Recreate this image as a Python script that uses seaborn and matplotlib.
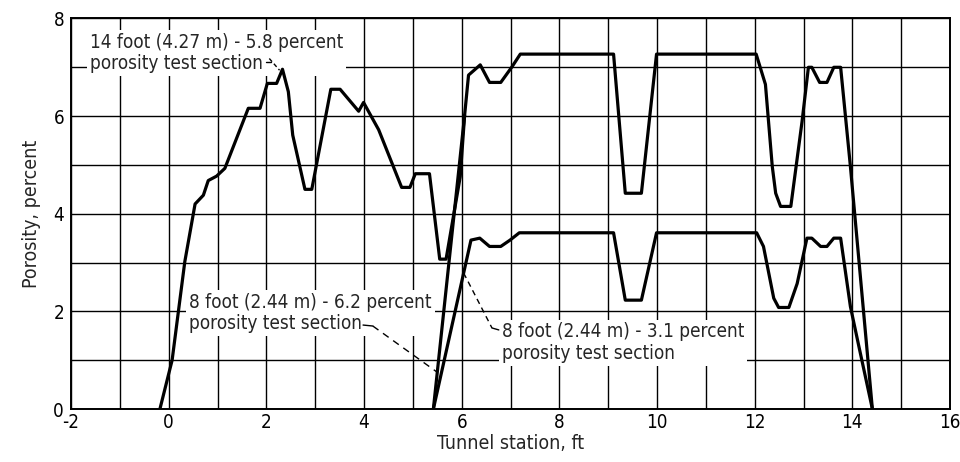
import numpy as np
import pandas as pd
import matplotlib
matplotlib.use("Agg")
import matplotlib.pyplot as plt
from matplotlib.ticker import MultipleLocator
import seaborn as sns

# Porosity distributions along the tunnel (station in ft, porosity in percent)
station_14ft = [-0.18, 0.07, 0.33, 0.54, 0.71, 0.81, 0.98, 1.15, 1.63, 1.87, 2.02, 2.21,
                2.33, 2.45, 2.54, 2.79, 2.93, 3.32, 3.51, 3.89, 3.99, 4.30, 4.77, 4.94,
                5.05, 5.34, 5.55, 5.68, 5.97, 6.06]
porosity_14ft = [0.0, 1.0, 3.02, 4.2, 4.38, 4.68, 4.77, 4.93, 6.16, 6.16, 6.67, 6.67,
                 6.96, 6.5, 5.61, 4.5, 4.5, 6.55, 6.55, 6.1, 6.28, 5.72, 4.54, 4.54,
                 4.82, 4.82, 3.07, 3.07, 4.76, 6.02]

station_8ft_62 = [5.42, 6.06, 6.14, 6.38, 6.57, 6.80, 7.03, 7.20, 9.11, 9.35, 9.68, 9.99,
                  12.03, 12.22, 12.36, 12.43, 12.53, 12.74, 12.97, 13.10, 13.17, 13.33,
                  13.48, 13.62, 13.76, 13.96, 14.41]
porosity_8ft_62 = [0.0, 6.02, 6.84, 7.05, 6.69, 6.69, 7.01, 7.27, 7.27, 4.42, 4.42, 7.27,
                   7.27, 6.65, 4.97, 4.42, 4.15, 4.15, 5.89, 7.0, 7.0, 6.69,
                   6.69, 7.0, 7.0, 4.97, 0.0]

station_8ft_31 = [5.42, 6.19, 6.37, 6.57, 6.80, 6.99, 7.18, 9.11, 9.35, 9.68, 9.99, 12.04,
                  12.18, 12.39, 12.49, 12.70, 12.87, 13.07, 13.17, 13.35, 13.48, 13.62,
                  13.76, 13.96, 14.13, 14.41]
porosity_8ft_31 = [0.0, 3.46, 3.5, 3.33, 3.33, 3.46, 3.61, 3.61, 2.23, 2.23, 3.61, 3.61,
                   3.33, 2.27, 2.08, 2.08, 2.57, 3.5, 3.5, 3.33, 3.33, 3.5,
                   3.5, 2.1, 1.3, 0.0]

x_ticks = [-2, 0, 2, 4, 6, 8, 10, 12, 14, 16]
y_ticks = [0, 2, 4, 6, 8]

label_14ft = "14 foot (4.27 m) - 5.8 percent\nporosity test section"
label_8ft_62 = "8 foot (2.44 m) - 6.2 percent\nporosity test section"
label_8ft_31 = "8 foot (2.44 m) - 3.1 percent\nporosity test section"

sns.set_style("white")
plt.rcParams["font.family"] = ["DejaVu Sans"]
plt.rcParams["font.stretch"] = "condensed"
plt.rcParams["axes.unicode_minus"] = False

fig = plt.figure(figsize=(9.6, 4.62), dpi=100)
ax = fig.add_axes([0.074, 0.1147, 0.9156, 0.8453])

for xs, ys in [(station_14ft, porosity_14ft),
               (station_8ft_62, porosity_8ft_62),
               (station_8ft_31, porosity_8ft_31)]:
    df = pd.DataFrame({"station": xs, "porosity": ys})
    sns.lineplot(data=df, x="station", y="porosity", sort=False, estimator=None,
                 color="black", linewidth=2.3, ax=ax, zorder=6)

ax.set_xlim(-2, 16)
ax.set_ylim(0, 8)
ax.set_xticks(x_ticks)
ax.set_yticks(y_ticks)
ax.xaxis.set_minor_locator(MultipleLocator(1))
ax.yaxis.set_minor_locator(MultipleLocator(1))
ax.grid(which="both", color="black", linewidth=1.0)
ax.set_axisbelow(True)
ax.tick_params(which="both", length=0, labelsize=13.5, colors="black")
ax.tick_params(axis="x", pad=3)
ax.tick_params(axis="y", pad=5)
for s in ax.spines.values():
    s.set_color("black")
    s.set_linewidth(1.4)

ax.set_xlabel("Tunnel station, ft", fontsize=14, labelpad=1)
ax.set_ylabel("Porosity, percent", fontsize=14, labelpad=9)

box = dict(facecolor="white", edgecolor="none", pad=2.0)
text_kw = dict(fontsize=13.6, ha="left", va="center", linespacing=1.15, bbox=box, zorder=4)

# 14 foot section label with leader to its peak
ax.text(-1.62, 7.3, label_14ft, **text_kw)
peak_i = int(np.argmax(porosity_14ft))
ax.plot([2.0, 2.1], [7.1, 7.1], color="black", lw=1.0, zorder=5)
ax.plot([2.06, station_14ft[peak_i] - 0.06], [7.18, porosity_14ft[peak_i] - 0.02],
        color="black", lw=1.0, ls=(0, (3, 2)), zorder=5)

# 8 foot, 6.2 percent label
ax.text(0.42, 1.96, label_8ft_62, **text_kw)
tip_x = 5.5
tip_y = float(np.interp(tip_x, station_8ft_62, porosity_8ft_62))
ax.plot([3.98, 4.18], [1.72, 1.70], color="black", lw=1.0, zorder=5)
ax.plot([4.18, tip_x], [1.70, tip_y], color="black", lw=1.0, ls=(0, (5, 4)), zorder=5)

# 8 foot, 3.1 percent label
ax.text(6.82, 1.36, label_8ft_31, **text_kw)
tip_x = 6.04
tip_y = float(np.interp(tip_x, station_8ft_31, porosity_8ft_31))
ax.plot([6.62, 6.76], [1.66, 1.62], color="black", lw=1.0, zorder=5)
ax.plot([tip_x, 6.62], [tip_y, 1.66], color="black", lw=1.0, ls=(0, (4, 3)), zorder=5)

fig.savefig("out.png", dpi=100)
